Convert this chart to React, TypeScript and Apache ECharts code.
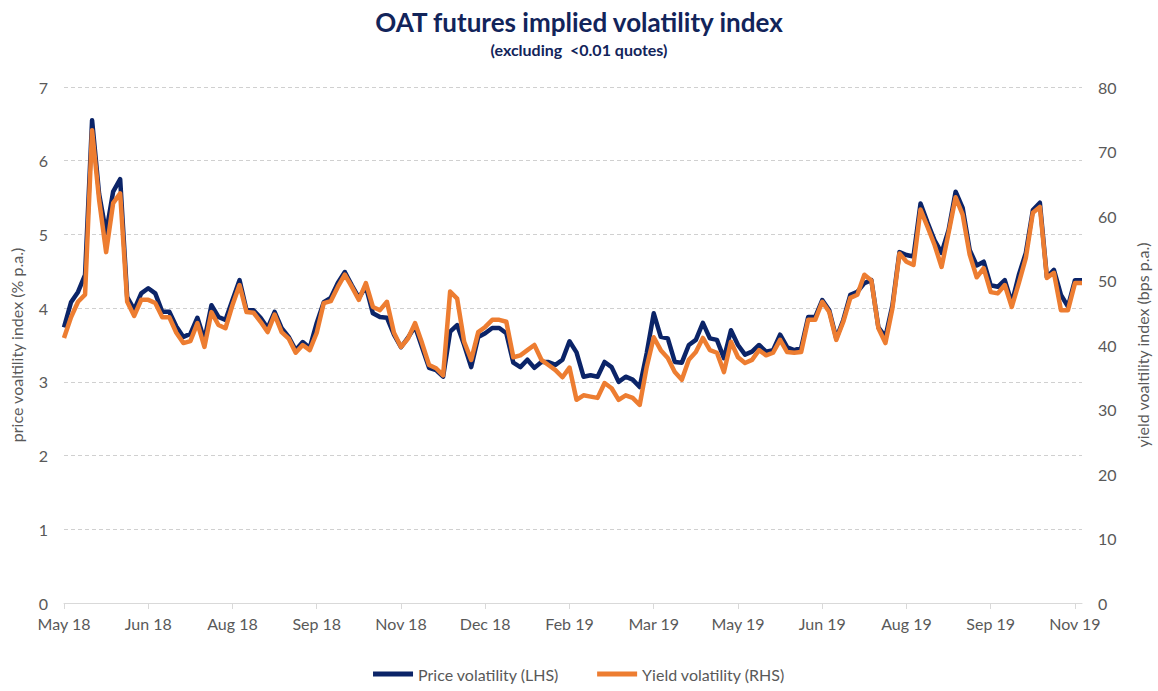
import React, { useEffect, useRef } from "react";
import * as echarts from "echarts";

const tickLabels = ["May 18", "Jun 18", "Aug 18", "Sep 18", "Nov 18", "Dec 18", "Feb 19", "Mar 19", "May 19", "Jun 19", "Aug 19", "Sep 19", "Nov 19"];
const pointsPerTick = 12;

const priceVol = [
  3.74, 4.08, 4.22, 4.45, 6.55, 5.55, 5.02, 5.58, 5.75, 4.15,
  3.98, 4.2, 4.27, 4.2, 3.95, 3.95, 3.75, 3.61, 3.65, 3.87,
  3.57, 4.04, 3.88, 3.84, 4.11, 4.38, 3.97, 3.97, 3.87, 3.73,
  3.95, 3.73, 3.61, 3.43, 3.54, 3.46, 3.8, 4.08, 4.14, 4.34,
  4.49, 4.31, 4.14, 4.29, 3.93, 3.88, 3.87, 3.64, 3.47, 3.6,
  3.75, 3.47, 3.19, 3.16, 3.07, 3.68, 3.77, 3.5, 3.2, 3.61,
  3.66, 3.73, 3.73, 3.66, 3.26, 3.2, 3.3, 3.19, 3.27, 3.27,
  3.23, 3.3, 3.55, 3.4, 3.07, 3.09, 3.07, 3.27, 3.2, 3.0,
  3.07, 3.03, 2.93, 3.39, 3.93, 3.61, 3.59, 3.27, 3.26, 3.5,
  3.57, 3.8, 3.59, 3.57, 3.32, 3.7, 3.5, 3.37, 3.41, 3.5,
  3.41, 3.43, 3.64, 3.47, 3.43, 3.46, 3.88, 3.88, 4.11, 3.97,
  3.59, 3.84, 4.18, 4.22, 4.34, 4.38, 3.74, 3.61, 4.04, 4.76,
  4.72, 4.7, 5.42, 5.16, 4.92, 4.75, 5.06, 5.58, 5.36, 4.79,
  4.58, 4.63, 4.31, 4.29, 4.38, 4.07, 4.45, 4.75, 5.33, 5.43,
  4.42, 4.52, 4.18, 4.02, 4.38, 4.38
];

const yieldVol = [
  41.1, 44.3, 46.7, 47.8, 73.3, 62.5, 54.4, 62, 63.5, 46.7,
  44.5, 47, 47, 46.5, 44.3, 44.3, 41.9, 40.3, 40.6, 43.4,
  39.7, 45.1, 43.1, 42.6, 46.2, 49.3, 45.1, 45, 43.6, 42,
  44.7, 42, 41, 38.8, 40, 39.2, 41.9, 46.5, 46.8, 49,
  50.9, 49, 47, 49.6, 45.9, 45.4, 46.7, 41.9, 39.7, 41,
  43.4, 40.3, 36.9, 36.4, 35.3, 48.3, 47.2, 40.5, 37.7, 42,
  42.8, 43.9, 43.9, 43.6, 38.1, 38.4, 39.2, 40, 37.7, 36.9,
  36.1, 35, 36.5, 31.5, 32.2, 32, 31.8, 34.1, 33.3, 31.5,
  32.2, 31.8, 30.7, 36.6, 41.2, 39.2, 38, 35.8, 34.6, 37.7,
  38.9, 41.1, 39.2, 38.8, 35.8, 40.5, 38.1, 37.2, 37.7, 39.2,
  38.4, 38.8, 40.8, 38.9, 38.8, 38.9, 43.9, 43.9, 46.7, 45.1,
  40.8, 43.6, 47.3, 47.8, 50.9, 50, 42.6, 40.3, 45.7, 54.2,
  52.9, 52.4, 61, 58.3, 55.5, 52.1, 57.4, 62.9, 60.2, 54,
  50.5, 51.9, 48.2, 48, 49.3, 45.9, 49.6, 53.5, 60.5, 61.4,
  50.4, 51.2, 45.4, 45.4, 49.6, 49.6
];

const NAVY = "#0B2468";
const ORANGE = "#ED7D31";
const GREY = "#595959";
const FONT = "Lato, 'Open Sans', sans-serif";

export default function App() {
  const ref = useRef<HTMLDivElement>(null);
  useEffect(() => {
    if (!ref.current) return;
    const chart = echarts.init(ref.current, null, { renderer: "svg" });
    const categories = priceVol.map((_, i) =>
      i % pointsPerTick === 0 && tickLabels[i / pointsPerTick] ? tickLabels[i / pointsPerTick] : ""
    );
    chart.setOption({
      animation: false,
      backgroundColor: "#ffffff",
      textStyle: { fontFamily: FONT },
      title: {
        text: "OAT futures implied volatility index",
        subtext: "(excluding  <0.01 quotes)",
        left: "center",
        top: 4,
        itemGap: 6,
        textStyle: { fontFamily: FONT, fontSize: 26, fontWeight: "bold", color: "#12245A" },
        subtextStyle: { fontFamily: FONT, fontSize: 16, fontWeight: "bold", color: "#12245A" },
      },
      legend: {
        bottom: 4,
        left: "center",
        itemWidth: 40,
        itemHeight: 5,
        itemGap: 38,
        icon: "rect",
        textStyle: { fontFamily: FONT, fontSize: 16, color: GREY },
        data: ["Price volatility (LHS)", "Yield volatility (RHS)"],
      },
      grid: { left: 62, right: 74, top: 87, bottom: 88, containLabel: false },
      xAxis: {
        type: "category",
        data: categories,
        boundaryGap: false,
        axisLine: { lineStyle: { color: "#D9D9D9", width: 1 } },
        axisTick: {
          show: true,
          length: 6,
          interval: (i: number) => i % pointsPerTick === 0,
          lineStyle: { color: "#D9D9D9" },
        },
        axisLabel: {
          interval: (i: number) => i % pointsPerTick === 0,
          color: GREY,
          fontSize: 16,
          fontFamily: FONT,
          margin: 12,
          hideOverlap: false,
        },
        splitLine: { show: false },
      },
      yAxis: [
        {
          type: "value",
          min: 0,
          max: 7,
          interval: 1,
          position: "left",
          name: "price voaltility index (% p.a.)",
          nameLocation: "middle",
          nameGap: 40,
          nameRotate: 90,
          nameTextStyle: { color: GREY, fontSize: 16, fontFamily: FONT },
          axisLine: { show: false },
          axisTick: { show: false },
          axisLabel: { color: GREY, fontSize: 16, fontFamily: FONT, margin: 16 },
          splitLine: { show: true, lineStyle: { color: "#D0D0D0", type: [4, 3], width: 1 } },
        },
        {
          type: "value",
          min: 0,
          max: 80,
          interval: 10,
          position: "right",
          name: "yield voaltility index (bps p.a.)",
          nameLocation: "middle",
          nameGap: 52,
          nameRotate: 90,
          nameTextStyle: { color: GREY, fontSize: 16, fontFamily: FONT },
          axisLine: { show: false },
          axisTick: { show: false },
          axisLabel: { color: GREY, fontSize: 16, fontFamily: FONT, margin: 16 },
          splitLine: { show: false },
        },
      ],
      series: [
        {
          name: "Price volatility (LHS)",
          type: "line",
          yAxisIndex: 0,
          data: priceVol,
          showSymbol: false,
          symbol: "none",
          lineStyle: { color: NAVY, width: 4.5, join: "round" },
          itemStyle: { color: NAVY },
          z: 2,
        },
        {
          name: "Yield volatility (RHS)",
          type: "line",
          yAxisIndex: 1,
          data: yieldVol,
          showSymbol: false,
          symbol: "none",
          lineStyle: { color: ORANGE, width: 4.5, join: "round" },
          itemStyle: { color: ORANGE },
          z: 3,
        },
      ],
    });
    return () => chart.dispose();
  }, []);
  return (
    <div
      ref={ref}
      style={{ position: "fixed", left: 0, top: 0, width: 1158, height: 691, background: "#fff" }}
    />
  );
}
